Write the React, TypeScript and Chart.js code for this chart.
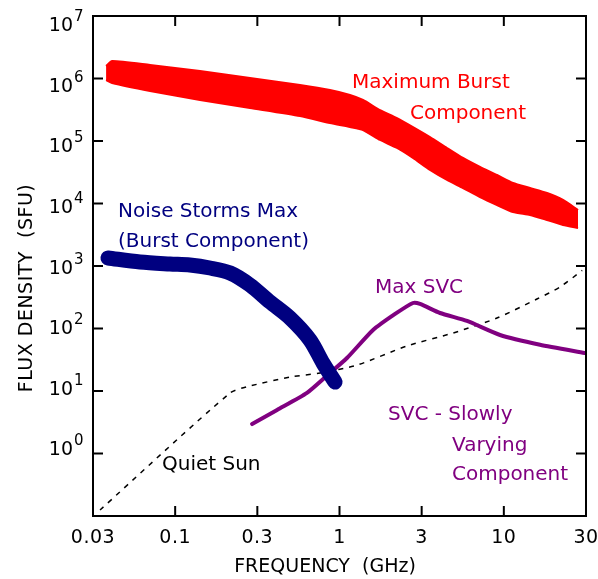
import { useEffect, useRef } from 'react';
import { Chart, registerables } from 'chart.js';

Chart.register(...registerables);

// ---------- data (frequency in GHz, flux density in SFU) ----------
const burstFreq = [0.038, 0.0413, 0.0703, 0.1416, 0.2853, 0.575, 0.875, 1.158, 1.39, 1.764, 2.238, 2.8, 3.554, 4.511, 5.643, 7.161, 9.09, 11.37, 14.43, 18.31, 22.92, 28.28];
const burstUpper = [1.585e6, 1.905e6, 1.644e6, 1.318e6, 1.018e6, 7.87e5, 6.55e5, 5.45e5, 4.53e5, 3.13e5, 2.33e5, 1.675e5, 1.159e5, 7.73e4, 5.35e4, 3.84e4, 2.86e4, 2.13e4, 1.77e4, 1.47e4, 1.138e4, 7.87e3];
const burstLower = [9.46e5, 8.47e5, 6.31e5, 4.53e5, 3.37e5, 2.51e5, 1.94e5, 1.675e5, 1.5e5, 1.038e5, 7.73e4, 5.35e4, 3.44e4, 2.38e4, 1.77e4, 1.27e4, 9.46e3, 7.31e3, 6.55e3, 5.45e3, 4.53e3, 4.06e3];

const stormFreq = [0.039, 0.0611, 0.093, 0.123, 0.163, 0.216, 0.285, 0.378, 0.5, 0.661, 0.794, 0.939];
const stormFlux = [1343, 1159, 1076, 1037, 929, 773, 497, 265, 147, 65.5, 28, 13.9];

const svcFreq = [0.294, 0.417, 0.634, 0.875, 1.11, 1.6, 2.18, 2.8, 3.09, 4.09, 5.97, 9.48, 16.6, 31];
const svcFlux = [2.96, 4.97, 9.3, 19.4, 33.7, 94.6, 171, 256, 247, 177, 132, 78.7, 55, 40.6];

const quietFreq = [0.0349, 0.216, 0.285, 0.5, 0.76, 1.28, 2.57, 4.91, 9.08, 15.9, 21.97, 30];
const quietFlux = [0.125, 9.3, 12, 16.7, 19.4, 26, 52.5, 84.7, 147, 296, 461, 850];

// axis ticks: x ticks sit at half-decade steps, labelled with rounded values
const xTickExp = [-1.5, -1, -0.5, 0, 0.5, 1, 1.5];
const xTickLabels = ['0.03', '0.1', '0.3', '1', '3', '10', '30'];
const yTickPowers = [0, 1, 2, 3, 4, 5, 6, 7];
const yMinPower = -1;
const yMaxPower = 7;

const xTitle = 'FREQUENCY  (GHz)';
const yTitle = 'FLUX DENSITY  (SFU)';

const RED = '#ff0000';
const NAVY = '#000080';
const PURPLE = '#800080';
const BLACK = '#000000';

const annotations = [
  { text: 'Maximum Burst', x: 352, y: 88, color: RED },
  { text: 'Component', x: 410, y: 119, color: RED },
  { text: 'Noise Storms Max', x: 118, y: 217, color: NAVY },
  { text: '(Burst Component)', x: 118, y: 247, color: NAVY },
  { text: 'Max SVC', x: 375, y: 293, color: PURPLE },
  { text: 'SVC - Slowly', x: 388, y: 420, color: PURPLE },
  { text: 'Varying', x: 452, y: 451, color: PURPLE },
  { text: 'Component', x: 452, y: 480, color: PURPLE },
  { text: 'Quiet Sun', x: 162, y: 470, color: BLACK },
];

const FONT = '"DejaVu Sans", "Liberation Sans", sans-serif';
const TICK = 10;

const pts = (xs: number[], ys: number[]) => xs.map((x, i) => ({ x, y: ys[i] }));

const decorPlugin = {
  id: 'decor',
  afterDraw(chart: any) {
    const { ctx, chartArea: a, scales } = chart;
    const xs = scales.x;
    const ys = scales.y;
    ctx.save();
    const line = (x1: number, y1: number, x2: number, y2: number) => {
      ctx.beginPath();
      ctx.moveTo(x1, y1);
      ctx.lineTo(x2, y2);
      ctx.stroke();
    };
    ctx.strokeStyle = BLACK;
    ctx.lineWidth = 2;
    ctx.strokeRect(a.left, a.top, a.right - a.left, a.bottom - a.top);

    ctx.fillStyle = BLACK;
    ctx.textBaseline = 'alphabetic';
    // x ticks + labels
    ctx.font = `19px ${FONT}`;
    (ctx as any).letterSpacing = '0.5px';
    ctx.textAlign = 'center';
    xTickExp.forEach((e, i) => {
      const px = xs.getPixelForValue(Math.pow(10, e));
      if (i > 0 && i < xTickExp.length - 1) {
        line(px, a.bottom, px, a.bottom - TICK);
        line(px, a.top, px, a.top + TICK);
      }
      ctx.fillText(xTickLabels[i], px, a.bottom + 27);
    });
    // y ticks + labels
    (ctx as any).letterSpacing = '0px';
    yTickPowers.forEach((p) => {
      const py = ys.getPixelForValue(Math.pow(10, p));
      if (p > yMinPower && p < yMaxPower) {
        line(a.left, py, a.left + TICK, py);
        line(a.right, py, a.right - TICK, py);
      }
      const base = py + 15 - 0.03 * (py - a.top);
      ctx.font = `19px ${FONT}`;
      ctx.textAlign = 'right';
      ctx.fillText('10', a.left - 20, base);
      ctx.font = `15px ${FONT}`;
      ctx.textAlign = 'left';
      ctx.fillText(String(p), a.left - 19, base - 10);
    });
    // axis titles
    ctx.font = `19px ${FONT}`;
    ctx.textAlign = 'center';
    ctx.fillText(xTitle, 325, a.bottom + 56);
    ctx.save();
    (ctx as any).letterSpacing = '0.5px';
    ctx.translate(32, 288);
    ctx.rotate(-Math.PI / 2);
    ctx.fillText(yTitle, 0, 0);
    ctx.restore();
    // annotations
    ctx.font = `20px ${FONT}`;
    (ctx as any).letterSpacing = '0px';
    ctx.textAlign = 'left';
    annotations.forEach((an) => {
      ctx.fillStyle = an.color;
      ctx.fillText(an.text, an.x, an.y);
    });
    ctx.restore();
  },
};

export default function App() {
  const ref = useRef<HTMLCanvasElement>(null);
  useEffect(() => {
    if (!ref.current) return;
    const chart = new Chart(ref.current, {
      type: 'line',
      data: {
        datasets: [
          {
            data: pts(burstFreq, burstUpper),
            borderColor: RED,
            backgroundColor: RED,
            borderWidth: 2,
            pointRadius: 0,
            fill: '+1',
            tension: 0.2,
          },
          {
            data: pts(burstFreq, burstLower),
            borderColor: RED,
            backgroundColor: RED,
            borderWidth: 2,
            pointRadius: 0,
            fill: false,
            tension: 0.2,
          },
          {
            data: pts(stormFreq, stormFlux),
            borderColor: NAVY,
            borderWidth: 15,
            borderCapStyle: 'round',
            borderJoinStyle: 'round',
            pointRadius: 0,
            fill: false,
            tension: 0.3,
          },
          {
            data: pts(svcFreq, svcFlux),
            borderColor: PURPLE,
            borderWidth: 4,
            borderCapStyle: 'round',
            borderJoinStyle: 'round',
            pointRadius: 0,
            fill: false,
            tension: 0.2,
          },
          {
            data: pts(quietFreq, quietFlux),
            borderColor: BLACK,
            borderWidth: 1.5,
            borderDash: [5, 6],
            pointRadius: 0,
            fill: false,
            tension: 0.25,
          },
        ],
      },
      options: {
        responsive: false,
        animation: false,
        layout: { padding: { left: 93, top: 16, right: 12, bottom: 63 } },
        scales: {
          x: { type: 'logarithmic', min: Math.pow(10, -1.5), max: Math.pow(10, 1.5), display: false },
          y: { type: 'logarithmic', min: Math.pow(10, yMinPower), max: Math.pow(10, yMaxPower), display: false },
        },
        plugins: { legend: { display: false }, tooltip: { enabled: false } },
      },
      plugins: [decorPlugin],
    } as any);
    return () => chart.destroy();
  }, []);
  return (
    <div style={{ position: 'absolute', left: 0, top: 0, width: 598, height: 579, background: '#fff' }}>
      <canvas ref={ref} width={598} height={579} style={{ display: 'block' }} />
    </div>
  );
}
